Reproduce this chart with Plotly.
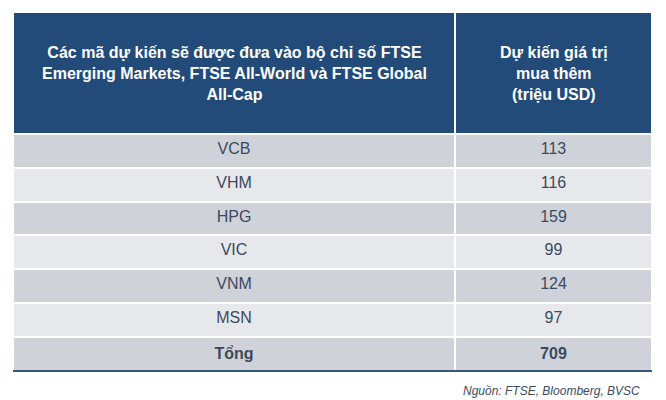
import plotly.graph_objects as go

header_left = "Các mã dự kiến sẽ được đưa vào bộ chỉ số FTSE<br>Emerging Markets, FTSE All-World và FTSE Global<br>All-Cap"
header_right = "Dự kiến giá trị<br>mua thêm<br>(triệu USD)"

tickers = ["VCB", "VHM", "HPG", "VIC", "VNM", "MSN", "<b>Tổng</b>"]
values = ["113", "116", "159", "99", "124", "97", "<b>709</b>"]
source = "Nguồn: FTSE, Bloomberg, BVSC"

col_widths = [442, 197]
dark_row = "#cfd3d9"
light_row = "#e7e8eb"
row_colors = [dark_row if i % 2 == 0 else light_row for i in range(len(tickers))]
font_family = "Liberation Sans, Arial"
text_color = "#3b4a5e"

fig = go.Figure(
    data=go.Table(
        columnwidth=col_widths,
        header=dict(
            values=["", ""],
            fill_color="#224b79",
            line=dict(color="white", width=2),
            height=122,
        ),
        cells=dict(
            values=[tickers, values],
            fill_color=[row_colors, row_colors],
            line=dict(color="white", width=2),
            font=dict(family=font_family, size=16, color=text_color),
            align="center",
            height=33.8,
        ),
        domain=dict(x=[0, 1], y=[0, 1]),
    )
)

# header labels as annotations so every line is centred
total_w = sum(col_widths)
centres = [col_widths[0] / 2 / total_w, (col_widths[0] + col_widths[1] / 2) / total_w]
for label, cx in zip([header_left, header_right], centres):
    fig.add_annotation(
        text="<b>" + label + "</b>",
        xref="paper", yref="paper", x=cx, y=0.828,
        xanchor="center", yanchor="middle", align="center", showarrow=False,
        font=dict(family=font_family, size=16, color="white"),
    )

# dark rule under the table
fig.add_shape(
    type="line", xref="paper", yref="paper",
    x0=0, x1=1, y0=0.0, y1=0.0,
    line=dict(color="#3a5677", width=2),
)

fig.add_annotation(
    text="<i>" + source + "</i>",
    xref="paper", yref="paper", x=0.984, y=-0.03,
    xanchor="right", yanchor="top", showarrow=False,
    font=dict(family=font_family, size=12, color=text_color),
)

fig.update_layout(
    width=666,
    height=400,
    margin=dict(l=5, r=22, t=4, b=37),
    paper_bgcolor="white",
    plot_bgcolor="white",
)

fig.write_html("out.html")
